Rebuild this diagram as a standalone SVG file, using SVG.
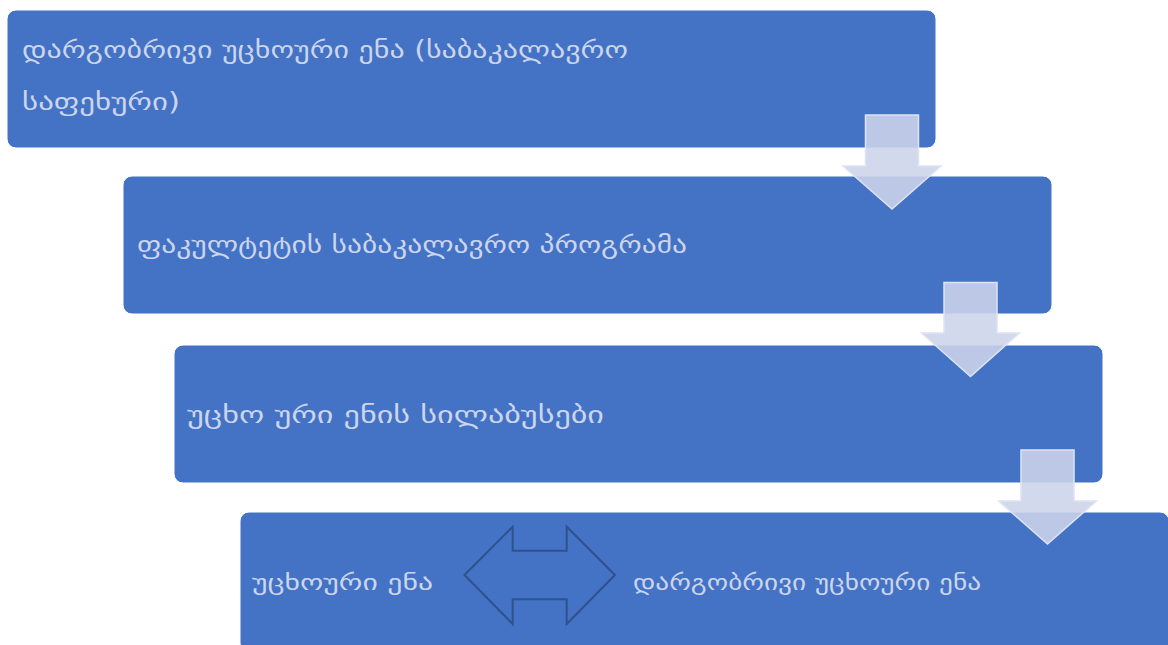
<svg xmlns="http://www.w3.org/2000/svg" width="1168" height="645" viewBox="0 0 1168 645">
<style>
.box{fill:#4472c4;stroke:#ffffff;stroke-width:1}
.t{font-family:"DejaVu Sans","Noto Sans",sans-serif;fill:#cbd5ee;font-size:24px}
.t4{font-family:"DejaVu Sans","Noto Sans",sans-serif;fill:#cbd5ee;font-size:21.5px}
.down{fill:#cdd4ea;fill-opacity:0.88;stroke:#dfe4f3;stroke-width:1.5}
.dbl{fill:none;stroke:#2f528f;stroke-width:2}
</style>
<rect width="1168" height="645" fill="#ffffff"/>
<g id="node1">
<rect class="box" x="7" y="10" width="929" height="138" rx="9"/>
<text class="t" x="22" y="58" textLength="606" lengthAdjust="spacingAndGlyphs">დარგობრივი უცხოური ენა (საბაკალავრო</text>
<text class="t" x="22" y="110" textLength="158" lengthAdjust="spacingAndGlyphs">საფეხური)</text>
</g>
<g id="node2">
<rect class="box" x="123" y="176" width="929" height="138" rx="9"/>
<text class="t" x="137" y="253" textLength="550" lengthAdjust="spacingAndGlyphs">ფაკულტეტის საბაკალავრო პროგრამა</text>
</g>
<g id="node3">
<rect class="box" x="174" y="345" width="929" height="138" rx="9"/>
<text class="t" x="187" y="423" textLength="417" lengthAdjust="spacingAndGlyphs">უცხო ური ენის სილაბუსები</text>
</g>
<g id="node4">
<rect class="box" x="240" y="512" width="929" height="140" rx="9"/>
<text class="t4" x="252" y="590" textLength="181" lengthAdjust="spacingAndGlyphs">უცხოური ენა</text>
<text class="t4" x="633" y="590" textLength="348" lengthAdjust="spacingAndGlyphs">დარგობრივი უცხოური ენა</text>
</g>
<g id="connectors">
<path class="down" d="M865.5,115 H918.5 V166 H941 L892,209 L843,166 H865.5 Z"/>
<path class="down" d="M944,282.5 H997 V333 H1019.5 L970.5,376.5 L921.5,333 H944 Z"/>
<path class="down" d="M1021,450 H1074 V501 H1096.5 L1047.5,544 L998.5,501 H1021 Z"/>
<path class="dbl" d="M464.5,575 L512.7,526.7 V550.7 H566.7 V526.7 L615,575 L566.7,624 V599.3 H512.7 V624 Z"/>
</g>
</svg>
